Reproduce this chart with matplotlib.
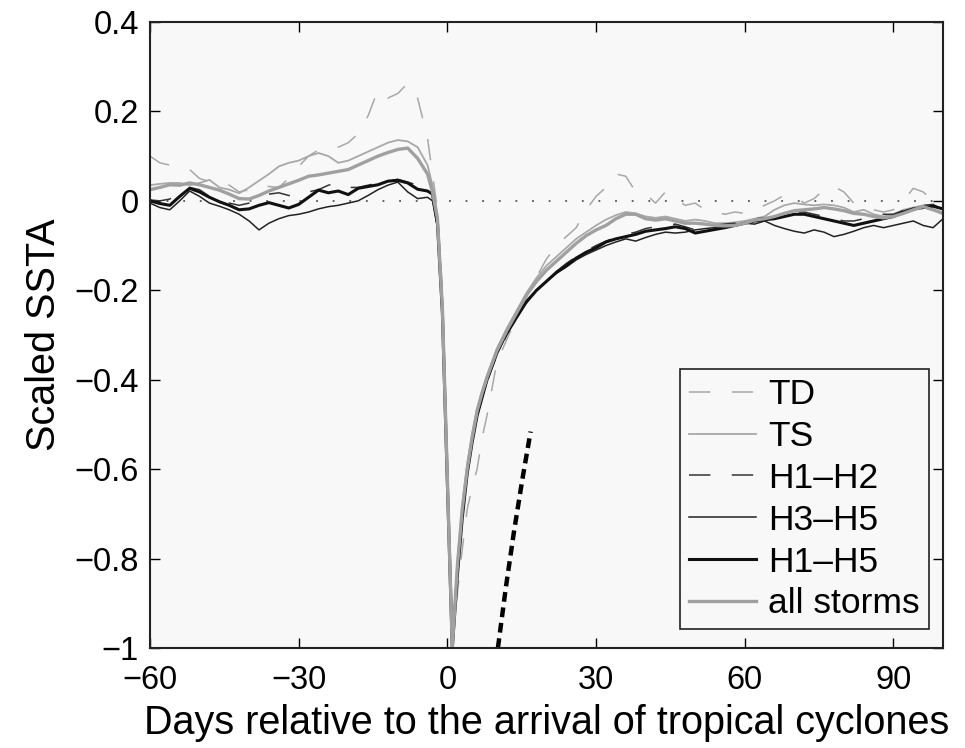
import matplotlib.pyplot as plt

plt.rcParams['font.family'] = ['Liberation Sans', 'DejaVu Sans']

# days relative to storm arrival (denser around the cold wake)
days = [-60, -58, -56, -54, -52, -50, -48, -46, -44, -42, -40, -38, -36, -34, -32,
        -30, -28, -26, -24, -22, -20, -18, -16, -14, -12, -10, -8, -6, -4,
        -3, -2, -1, 0, 1, 2, 3, 4, 5, 6, 7, 8,
        10, 12, 14, 16, 18, 20, 22, 24, 26, 28, 30, 32, 34, 36, 38, 40, 42, 44,
        46, 48, 50, 52, 54, 56, 58, 60, 62, 64, 66, 68, 70, 72, 74, 76, 78, 80,
        82, 84, 86, 88, 90, 92, 94, 96, 98, 100]

td = [0.1, 0.085, 0.08, 0.075, 0.07, 0.05, 0.043, 0.043, 0.035, 0.02, 0.025, 0.035, 0.032, 0.03, 0.05,
      0.077, 0.1, 0.114, 0.118, 0.12, 0.13, 0.15, 0.19, 0.248, 0.23, 0.24, 0.263, 0.23, 0.14,
      0.06, -0.02, -0.2, -0.6, -1.0, -0.88, -0.78, -0.69, -0.64, -0.6, -0.53, -0.48,
      -0.36, -0.31, -0.26, -0.215, -0.17, -0.13, -0.1, -0.08, -0.06, -0.02, 0.01, 0.03, 0.06, 0.055,
      0.02, 0.015, -0.005, 0.02, 0.005, -0.01, -0.005, -0.02, -0.025, -0.03, -0.025, -0.028, -0.02,
      -0.01, 0.0, 0.013, 0.01, -0.005, 0.005, 0.025, 0.032, 0.02, -0.005, -0.015, -0.02, -0.025,
      -0.02, 0.0, 0.028, 0.02, 0.0, -0.005]

ts = [0.035, 0.038, 0.04, 0.04, 0.035, 0.04, 0.047, 0.03, 0.025, 0.017, 0.03, 0.045, 0.06, 0.077, 0.085,
      0.09, 0.1, 0.107, 0.1, 0.085, 0.09, 0.1, 0.11, 0.12, 0.13, 0.136, 0.133, 0.12, 0.08,
      0.035, -0.03, -0.23, -0.61, -1.0, -0.81, -0.68, -0.59, -0.52, -0.465, -0.425, -0.39,
      -0.33, -0.285, -0.245, -0.205, -0.172, -0.145, -0.125, -0.105, -0.085, -0.07, -0.055, -0.042,
      -0.032, -0.025, -0.028, -0.035, -0.038, -0.035, -0.04, -0.045, -0.042, -0.045, -0.05, -0.05,
      -0.048, -0.045, -0.04, -0.035, -0.02, -0.01, -0.005, -0.008, -0.01, -0.008, -0.01, -0.015,
      -0.025, -0.02, -0.03, -0.035, -0.03, -0.02, -0.015, -0.01, -0.02, -0.03]

h12 = [0.002, 0.0, 0.004, 0.02, 0.03, 0.025, 0.01, 0.002, -0.005, -0.01, -0.005, 0.005, 0.015, 0.018, 0.012,
       0.01, 0.02, 0.025, 0.035, 0.04, 0.03, 0.03, 0.035, 0.04, 0.045, 0.048, 0.042, 0.035, 0.02,
       0.015, -0.05, -0.25, -0.63, -1.0, -0.84, -0.71, -0.61, -0.54, -0.48, -0.44, -0.405,
       -0.345, -0.3, -0.262, -0.228, -0.2, -0.178, -0.158, -0.14, -0.125, -0.112, -0.1, -0.09,
       -0.082, -0.075, -0.07, -0.062, -0.058, -0.055, -0.052, -0.058, -0.065, -0.06, -0.055, -0.052,
       -0.05, -0.045, -0.04, -0.038, -0.036, -0.03, -0.025, -0.025, -0.03, -0.035, -0.04, -0.045,
       -0.045, -0.04, -0.035, -0.03, -0.03, -0.022, -0.015, -0.01, -0.008, -0.02]

h35 = [-0.005, -0.015, -0.02, 0.0, 0.022, 0.01, -0.005, -0.012, -0.02, -0.03, -0.045, -0.065, -0.05, -0.04, -0.033,
       -0.03, -0.025, -0.018, -0.013, -0.01, -0.005, 0.0, 0.012, 0.025, 0.035, 0.042, 0.02, 0.005, 0.008,
       0.0, -0.06, -0.26, -0.64, -1.0, -0.83, -0.7, -0.6, -0.53, -0.475, -0.435, -0.4,
       -0.335, -0.29, -0.255, -0.225, -0.2, -0.18, -0.162, -0.148, -0.132, -0.12, -0.11, -0.1,
       -0.092, -0.085, -0.09, -0.082, -0.075, -0.07, -0.072, -0.07, -0.065, -0.062, -0.06, -0.058,
       -0.055, -0.05, -0.052, -0.045, -0.055, -0.062, -0.068, -0.072, -0.065, -0.07, -0.08, -0.075,
       -0.068, -0.06, -0.055, -0.06, -0.055, -0.05, -0.045, -0.055, -0.06, -0.04]

h15 = [0.0, -0.006, -0.01, 0.01, 0.028, 0.02, 0.008, -0.002, -0.01, -0.02, -0.018, -0.01, -0.004, -0.01, -0.016,
       -0.008, 0.008, 0.024, 0.018, 0.022, 0.014, 0.028, 0.032, 0.036, 0.044, 0.046, 0.04, 0.026, 0.022,
       0.015, -0.05, -0.25, -0.63, -1.0, -0.84, -0.71, -0.61, -0.54, -0.48, -0.44, -0.4,
       -0.34, -0.295, -0.26, -0.225, -0.2, -0.18, -0.16, -0.145, -0.128, -0.115, -0.105, -0.092,
       -0.085, -0.08, -0.075, -0.068, -0.065, -0.062, -0.058, -0.062, -0.072, -0.068, -0.064, -0.06,
       -0.055, -0.05, -0.045, -0.042, -0.04, -0.035, -0.03, -0.03, -0.035, -0.04, -0.045, -0.05,
       -0.055, -0.05, -0.045, -0.04, -0.035, -0.025, -0.018, -0.015, -0.012, -0.018]

allst = [0.025, 0.03, 0.036, 0.035, 0.04, 0.036, 0.03, 0.024, 0.015, 0.005, 0.004, 0.012, 0.022, 0.03, 0.038,
         0.046, 0.055, 0.058, 0.062, 0.066, 0.07, 0.08, 0.09, 0.1, 0.108, 0.115, 0.118, 0.095, 0.06,
         0.02, -0.04, -0.24, -0.62, -1.0, -0.82, -0.69, -0.6, -0.53, -0.47, -0.43, -0.395,
         -0.335, -0.29, -0.25, -0.21, -0.18, -0.155, -0.135, -0.115, -0.095, -0.078, -0.065, -0.055,
         -0.04, -0.03, -0.03, -0.04, -0.043, -0.04, -0.045, -0.05, -0.05, -0.052, -0.055, -0.056,
         -0.055, -0.05, -0.043, -0.04, -0.035, -0.028, -0.022, -0.02, -0.018, -0.015, -0.018, -0.022,
         -0.028, -0.03, -0.035, -0.038, -0.035, -0.028, -0.02, -0.013, -0.02, -0.028]

# steep dashed reference curve
ref_days = [10.2, 11.8, 13.4, 15.1, 16.8]
ref_vals = [-1.0, -0.865, -0.743, -0.625, -0.516]

fig = plt.figure(figsize=(9.65, 7.48), dpi=100)
ax = fig.add_axes([0.1554, 0.1337, 0.8218, 0.8369])
ax.set_facecolor('#f8f8f8')

ax.plot([-60, 100], [0, 0], color='#555555', lw=1.3, dashes=(1, 8.2))
ax.plot(days, td, color='#a8a8a8', lw=1.1, dashes=(14, 14), label='TD')
ax.plot(days, ts, color='#a8a8a8', lw=1.3, label='TS')
ax.plot(days, h12, color='#333333', lw=1.1, dashes=(14, 14), label='H1\u2013H2')
ax.plot(days, h35, color='#222222', lw=1.1, label='H3\u2013H5')
ax.plot(days, h15, color='#111111', lw=2.2, label='H1\u2013H5')
ax.plot(days, allst, color='#a0a0a0', lw=2.4, label='all storms')
ax.plot(ref_days, ref_vals, color='black', lw=3.2, dashes=(2.2, 1.3))

ax.set_xlim(-60, 100)
ax.set_ylim(-1, 0.4)
ax.set_xticks([-60, -30, 0, 30, 60, 90])
ax.set_xticklabels(['\u221260', '\u221230', '0', '30', '60', '90'])
ax.set_yticks([-1, -0.8, -0.6, -0.4, -0.2, 0, 0.2, 0.4])
ax.set_yticklabels(['\u22121', '\u22120.8', '\u22120.6', '\u22120.4', '\u22120.2', '0', '0.2', '0.4'])
ax.tick_params(direction='in', top=True, right=True, length=7, width=1, labelsize=23.5)
ax.tick_params(axis='x', pad=12)
ax.tick_params(axis='y', pad=8)
for s in ax.spines.values():
    s.set_linewidth(1.5)
    s.set_color('#222222')

ax.set_xlabel('Days relative to the arrival of tropical cyclones', fontsize=28.5, labelpad=6)
ax.set_ylabel('Scaled SSTA', fontsize=28.5, labelpad=8)

leg = ax.legend(loc='lower right', bbox_to_anchor=(0.982, 0.03), fontsize=25.5,
                frameon=True, fancybox=False, handlelength=1.9, handletextpad=0.35,
                labelspacing=0.25, borderpad=0.25, borderaxespad=0)
leg.get_frame().set_edgecolor('#222222')
leg.get_frame().set_linewidth(1.2)
leg.get_frame().set_facecolor('#f8f8f8')
leg.get_frame().set_alpha(1)

plt.savefig('out.png', dpi=100)
